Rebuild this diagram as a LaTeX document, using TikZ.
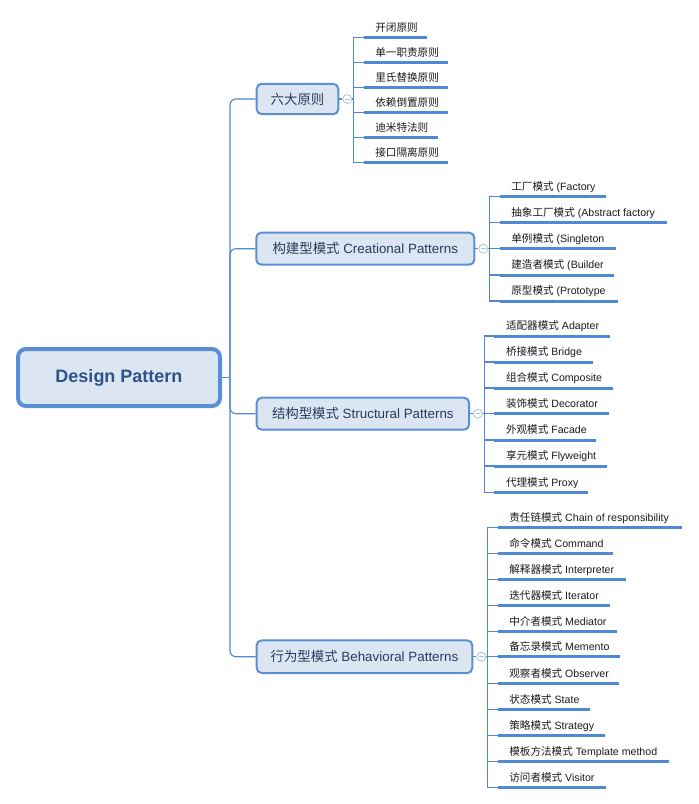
\documentclass[tikz,border=0pt]{standalone}
\usepackage{fontspec}
\setmainfont{Liberation Sans}
\newfontfamily\cjk{Noto Sans CJK SC}
\usetikzlibrary{calc}
\newcommand{\C}[1]{{\cjk #1}}
\definecolor{lineblue}{HTML}{4F88D3}
\definecolor{boxfill}{HTML}{DCE6F2}
\definecolor{boxdraw}{HTML}{5A8FD6}
\definecolor{roottext}{HTML}{2F5288}
\definecolor{brtext}{HTML}{263B5E}
\definecolor{circ}{HTML}{A9C3E9}
\definecolor{leaftext}{HTML}{1A1A1A}
\tikzset{
  rootbox/.style={draw=boxdraw, fill=boxfill, line width=4pt, rounded corners=8pt,
    minimum width=202pt, minimum height=57pt, inner sep=0pt,
    font=\fontsize{18}{20}\selectfont\bfseries, text=roottext},
  brbox/.style={draw=boxdraw, fill=boxfill, line width=2pt, rounded corners=5pt,
    minimum height=32pt, inner sep=0pt, font=\fontsize{13.4}{15}\selectfont, text=brtext},
  foldc/.style={circle, draw=circ, fill=white, line width=0.8pt, minimum size=9pt, inner sep=0pt,
    path picture={\draw[circ, line width=0.8pt] ($(path picture bounding box.center)+(-2.3pt,0)$) -- ($(path picture bounding box.center)+(2.3pt,0)$);}},
  leaf/.style={inner xsep=11.5pt, inner ysep=0pt, text height=10pt, text depth=6pt,
    anchor=south west, font=\fontsize{10.6}{12}\selectfont, text=leaftext},
  conn/.style={draw=lineblue, line width=1.15pt},
  uline/.style={draw=lineblue, line width=3pt},
}
\begin{document}
\begin{tikzpicture}[x=1pt,y=-1pt]
\useasboundingbox (0,0) rectangle (699,804);
\node[rootbox] (root) at (119,377.5) {Design Pattern};
\coordinate (trunk) at (230,377.5);
\draw[conn] (root.east) -- (trunk);

\node[brbox, minimum width=81.6pt, minimum height=30.3pt] (b1) at (297.5,99) {\C{六大原则}};
\node[brbox, minimum width=218pt] (b2) at (365.3,248.7) {\C{构建型模式} Creational Patterns};
\node[brbox, minimum width=212.3pt] (b3) at (362.85,413.7) {\C{结构型模式} Structural Patterns};
\node[brbox, minimum width=215.6pt, minimum height=32.7pt] (b4) at (364.5,656.7) {\C{行为型模式} Behavioral Patterns};

\foreach \b in {1,2,3,4}{
  \draw[conn, rounded corners=6pt] (trunk) |- (b\b.west);
  \node[foldc] (c\b) at ($(b\b.east)+(8,0)$) {};
  \draw[conn] (b\b.east) -- (c\b.west);
  \coordinate (v\b) at ($(c\b.center)+(6.3,0)$);
}

% group 1
\foreach \i/\y/\e/\t in {
  1/37.3/426.7/{\C{开闭原则}},
  2/62.3/447.7/{\C{单一职责原则}},
  3/87.3/447.7/{\C{里氏替换原则}},
  4/112.3/447.7/{\C{依赖倒置原则}},
  5/137.3/437.7/{\C{迪米特法则}},
  6/162.3/447.7/{\C{接口隔离原则}}}{
  \path let \p1=(v1) in \pgfextra{\pgfmathsetmacro\sx{\x1+10}\pgfmathsetmacro\tw{\e-\sx-23}\xdef\SX{\sx}\xdef\TW{\tw}};
  \node[leaf] (la\i) at (\SX pt,\y) {\makebox[\TW pt][l]{\t}};
  \draw[uline] (la\i.south west) -- (la\i.south east);
  \draw[conn] (c1.east) -- (v1) |- (la\i.south west);
}

% group 2
\foreach \i/\y/\e/\t in {
  1/196.7/605.7/{\C{工厂模式} (Factory},
  2/222.7/666.7/{\C{抽象工厂模式} (Abstract factory},
  3/248.7/615.7/{\C{单例模式} (Singleton},
  4/275/613.7/{\C{建造者模式} (Builder},
  5/301/617.3/{\C{原型模式} (Prototype}}{
  \path let \p1=(v2) in \pgfextra{\pgfmathsetmacro\sx{\x1+10}\pgfmathsetmacro\tw{\e-\sx-23}\xdef\SX{\sx}\xdef\TW{\tw}};
  \node[leaf] (lb\i) at (\SX pt,\y) {\makebox[\TW pt][l]{\t}};
  \draw[uline] (lb\i.south west) -- (lb\i.south east);
  \draw[conn] (c2.east) -- (v2) |- (lb\i.south west);
}

% group 3
\foreach \i/\y/\e/\t in {
  1/336/609.3/{\C{适配器模式} Adapter},
  2/362/592.3/{\C{桥接模式} Bridge},
  3/388/612.7/{\C{组合模式} Composite},
  4/413.7/608.3/{\C{装饰模式} Decorator},
  5/440/595.3/{\C{外观模式} Facade},
  6/466/606.7/{\C{享元模式} Flyweight},
  7/492.3/587.3/{\C{代理模式} Proxy}}{
  \path let \p1=(v3) in \pgfextra{\pgfmathsetmacro\sx{\x1+10}\pgfmathsetmacro\tw{\e-\sx-23}\xdef\SX{\sx}\xdef\TW{\tw}};
  \node[leaf] (lc\i) at (\SX pt,\y) {\makebox[\TW pt][l]{\t}};
  \draw[uline] (lc\i.south west) -- (lc\i.south east);
  \draw[conn] (c3.east) -- (v3) |- (lc\i.south west);
}

% group 4
\foreach \i/\y/\e/\t in {
  1/527.3/681.7/{\C{责任链模式} Chain of responsibility},
  2/553.3/612.3/{\C{命令模式} Command},
  3/579.3/625.7/{\C{解释器模式} Interpreter},
  4/605.3/609.3/{\C{迭代器模式} Iterator},
  5/631.3/616.7/{\C{中介者模式} Mediator},
  6/656.7/619.3/{\C{备忘录模式} Memento},
  7/683.3/618.3/{\C{观察者模式} Observer},
  8/709.3/589.3/{\C{状态模式} State},
  9/735.3/604.3/{\C{策略模式} Strategy},
  10/761.3/668.3/{\C{模板方法模式} Template method},
  11/787.3/605.7/{\C{访问者模式} Visitor}}{
  \path let \p1=(v4) in \pgfextra{\pgfmathsetmacro\sx{\x1+10}\pgfmathsetmacro\tw{\e-\sx-23}\xdef\SX{\sx}\xdef\TW{\tw}};
  \node[leaf] (ld\i) at (\SX pt,\y) {\makebox[\TW pt][l]{\t}};
  \draw[uline] (ld\i.south west) -- (ld\i.south east);
  \draw[conn] (c4.east) -- (v4) |- (ld\i.south west);
}
\end{tikzpicture}
\end{document}
